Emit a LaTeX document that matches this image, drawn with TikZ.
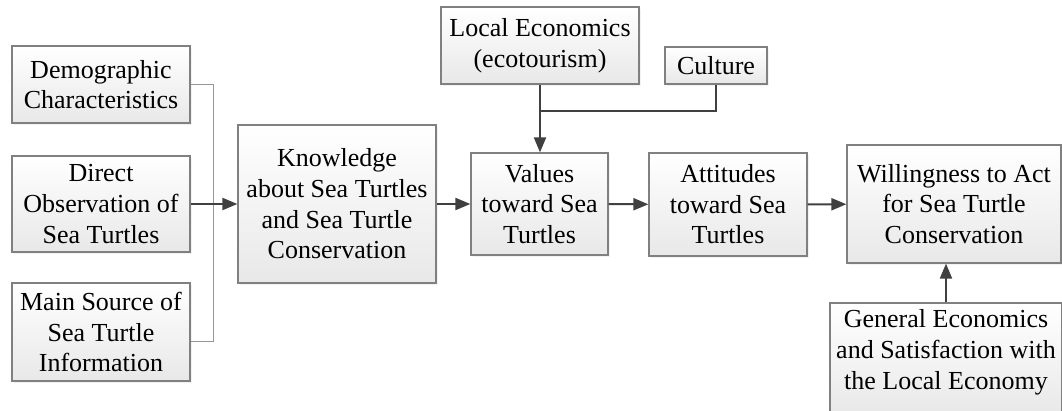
\documentclass[tikz,border=0pt]{standalone}
\usepackage{fontspec}
\newfontfamily\boxfont{LiberationSerif-Regular.ttf}
\usetikzlibrary{arrows.meta, shadows}
\definecolor{boxEdge}{RGB}{128, 128, 128}
\definecolor{boxShade}{RGB}{232, 232, 232}
\definecolor{linkGray}{RGB}{64, 64, 64}
\definecolor{bracketGray}{RGB}{150, 150, 150}

\begin{document}
\begin{tikzpicture}[x=0.5pt, y=-0.5pt,
    box/.style={draw=boxEdge, line width=0.6pt, top color=white, bottom color=boxShade,
      drop shadow={shadow xshift=1.2pt, shadow yshift=-1.2pt, fill=black!10},
      align=center, inner sep=0pt, font=\boxfont\fontsize{13}{15.3}\selectfont},
    link/.style={draw=linkGray, line width=1pt, -{Triangle[length=7.5pt, width=6pt]}},
    joint/.style={draw=linkGray, line width=1pt},
    bracket/.style={draw=bracketGray, line width=0.5pt}]
        \useasboundingbox (0,0) rectangle (1062,411);
        \clip (0,0) rectangle (1062,411);
        \node[box, minimum width=89pt, minimum height=38.5pt] (demo) at (101,84.5) {Demographic\\Characteristics};
        \node[box, minimum width=89pt, minimum height=48pt] (direct) at (101,204) {Direct\\Observation of\\Sea Turtles};
        \node[box, minimum width=89pt, minimum height=49pt] (source) at (101,332) {Main Source of\\Sea Turtle\\Information};
        \node[box, minimum width=99pt, minimum height=79pt] (know) at (337,204) {Knowledge\\about Sea Turtles\\and Sea Turtle\\Conservation};
        \node[box, minimum width=99pt, minimum height=38.5pt] (local) at (540,45.5) {Local Economics\\(ecotourism)};
        \node[box, minimum width=51pt, minimum height=18.5pt] (culture) at (716,65.5) {Culture};
        \node[box, minimum width=68.5pt, minimum height=51pt] (values) at (539.5,204) {Values\\toward Sea\\Turtles};
        \node[box, minimum width=79pt, minimum height=51.5pt] (att) at (728,204.5) {Attitudes\\toward Sea\\Turtles};
        \node[box, minimum width=107pt, minimum height=59pt] (will) at (954,204) {Willingness to Act\\for Sea Turtle\\Conservation};
        \node[box, minimum width=116pt, minimum height=56.5pt, text depth=10pt] (gen) at (946,359.5) {General Economics\\and Satisfaction with\\the Local Economy};
        \coordinate (merge) at (540,111);
        \draw[bracket] (demo.east) -- ++(23,0) |- ([yshift=-5pt]source.east);
        \draw[link] (direct) -- (know);
        \draw[link] (know) -- (values);
        \draw[link] (values) -- (att);
        \draw[link] (att) -- (will);
        \draw[link] (local.south) -- (local.south |- values.north);
        \draw[joint] (culture.south) |- (merge);
        \draw[link] (gen.north) -- (gen.north |- will.south);
      \end{tikzpicture}
\end{document}
